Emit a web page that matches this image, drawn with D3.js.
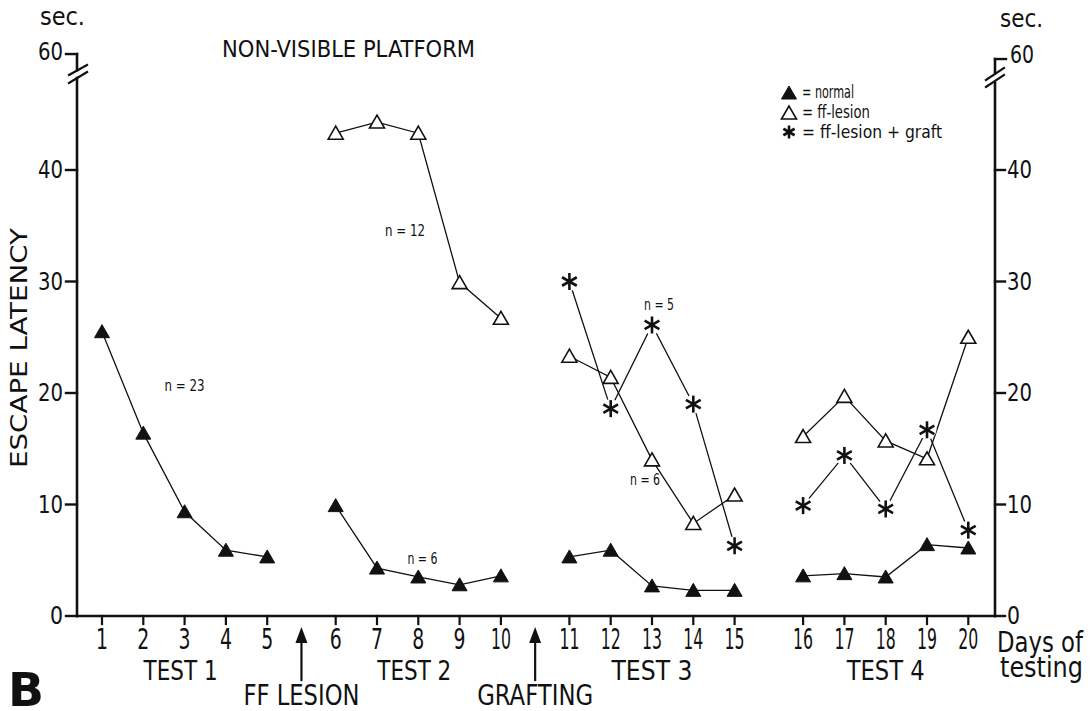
<!DOCTYPE html>
<html><head><meta charset="utf-8">
<script src="https://cdn.jsdelivr.net/npm/d3@7"></script>
<style>body{margin:0;background:#fff}svg text{font-family:"Liberation Sans Narrow","DejaVu Sans Condensed","Arial Narrow",sans-serif;fill:#111}</style>
</head><body>
<svg id="c" width="1090" height="711"></svg>
<script>
// ---------------- data ----------------
const days = d3.range(1, 21);
const testNames = ["TEST 1", "TEST 2", "TEST 3", "TEST 4"];
const testDays = [[1,2,3,4,5],[6,7,8,9,10],[11,12,13,14,15],[16,17,18,19,20]];
const normal   = [25.5,16.4,9.35,5.9,5.3, 9.9,4.3,3.5,2.8,3.6, 5.3,5.9,2.7,2.3,2.3, 3.6,3.8,3.5,6.4,6.1];
const ffLesion = [null,null,null,null,null, 43.3,44.3,43.3,29.9,26.7, 23.3,21.4,14.0,8.3,10.85, 16.1,19.7,15.7,14.1,25.0];
const ffGraft  = [null,null,null,null,null, null,null,null,null,null, 30.0,18.6,26.1,19.0,6.3, 9.9,14.4,9.6,16.7,7.7];
const yTicks = [0, 10, 20, 30, 40];
const yBreakLabel = "60";
const legendItems = [["filled","= normal"],["open","= ff-lesion"],["star","= ff-lesion + graft"]];
const nLabels = [["n = 23",3.0,20.7],["n = 12",7.68,34.6],["n = 6",8.1,5.2],["n = 5",13.17,27.9],["n = 6",12.83,12.2]];
const events = [["FF LESION",5.5],["GRAFTING",10.5]];

// ---------------- layout ----------------
const svg = d3.select("#c");
const x0 = 102, step = 41.3, gap = 68.5;
const dom = [1,5,6,10,11,15,16,20];
const rng = []; { let p = x0; dom.forEach((d,i)=>{ if(i>0){ p += (i%2===1) ? 4*step : gap; } rng.push(p); }); }
const x = d3.scaleLinear().domain(dom).range(rng);
const y = d3.scaleLinear().domain([0, 40]).range([616, 170]);
const axL = 77, axR = 995, axB = y(0), yTop = y(50.4);

function txt(px, py, s, o) {
  o = o || {};
  const t = svg.append("text").attr("x", px).attr("y", py).text(s)
    .attr("font-size", o.size || 20).attr("text-anchor", o.anchor || "start");
  if (o.len) t.attr("textLength", o.len).attr("lengthAdjust", "spacingAndGlyphs");
  if (o.weight) t.attr("font-weight", o.weight);
  if (o.rot) t.attr("transform", `rotate(${o.rot},${px},${py})`);
  if (o.mid) t.attr("dominant-baseline", "central");
  return t;
}
const line = (x1,y1,x2,y2,w) => svg.append("line").attr("x1",x1).attr("y1",y1).attr("x2",x2).attr("y2",y2)
  .attr("stroke","#111").attr("stroke-width",w||2.4).attr("stroke-linecap","square");

// ---------------- axes ----------------
// bottom
line(axL, axB, axR, axB, 2.6);
days.forEach(d => { line(x(d), axB, x(d), axB + 8, 2.2);
  txt(x(d), 649, String(d), {size: 29, anchor: "middle", len: String(d).length === 1 ? 12 : 20}); });
// left axis with break
line(axL, axB, axL, yTop + 24, 2.6);
line(axL, yTop + 16, axL, yTop, 2.6);
line(axL - 11, yTop, axL, yTop, 2.4);
line(axL - 8, yTop + 21, axL + 10, yTop + 11, 2.2);
line(axL - 8, yTop + 29, axL + 10, yTop + 18, 2.2);
yTicks.forEach(v => { line(axL - 11, y(v), axL, y(v), 2.4);
  txt(axL - 14, y(v), String(v), {size: 24, anchor: "end", mid: true, len: String(v).length === 1 ? 13 : 25}); });
txt(axL - 14, yTop - 2, yBreakLabel, {size: 24, anchor: "end", mid: true, len: 25});
txt(40, 25, "sec.", {size: 24, len: 45});
// right axis with break
const yTopR = yTop + 5;
line(axR, axB, axR, yTopR + 24, 2.6);
line(axR, yTopR + 14, axR, yTopR, 2.6);
line(axR, yTopR, axR + 11, yTopR, 2.4);
line(axR - 9, yTopR + 21, axR + 9, yTopR + 9, 2.2);
line(axR - 9, yTopR + 28, axR + 9, yTopR + 16, 2.2);
yTicks.forEach(v => { line(axR, y(v), axR + 10, y(v), 2.4);
  txt(axR + 12, y(v), String(v), {size: 24, mid: true, len: String(v).length === 1 ? 13 : 25}); });
txt(axR + 15, yTopR - 4, yBreakLabel, {size: 24, mid: true, len: 24});
txt(1000, 27, "sec.", {size: 24, len: 43});

// ---------------- texts ----------------
txt(222, 57, "NON-VISIBLE PLATFORM", {size: 23, len: 253});
txt(27, 348, "ESCAPE LATENCY", {size: 23, anchor: "middle", rot: -90, len: 240});
const testLen = [74, 74, 81, 78];
testDays.forEach((td, i) => txt((x(td[1]) + x(td[3])) / 2 + (i < 2 ? -4 : 0), 680, testNames[i], {size: 27, anchor: "middle", len: testLen[i]}));
events.forEach(([s, d]) => {
  const ax = x(d);
  line(ax, 680, ax, 640, 2.2);
  svg.append("path").attr("d", `M${ax},627 L${ax-6},643 L${ax+6},643 Z`).attr("fill", "#111");
  txt(ax, 705, s, {size: 29, anchor: "middle", len: 116});
});
txt(997, 652, "Days of", {size: 28, len: 86});
txt(1000, 677, "testing", {size: 28, len: 83});
txt(8, 706, "B", {size: 46, weight: "bold", len: 36});
nLabels.forEach(([s, d, v]) => txt(x(d), y(v), s, {size: 16, anchor: "middle", mid: true, len: s.length > 5 ? 40 : 30}));

// ---------------- markers ----------------
function tri(px, py, filled) {
  svg.append("path").attr("d", `M${px},${py-7} L${px-7.5},${py+6} L${px+7.5},${py+6} Z`)
    .attr("fill", filled ? "#111" : "#fff").attr("stroke", "#111").attr("stroke-width", filled ? 1 : 1.6).attr("stroke-linejoin", "miter");
}
function star(px, py, r, bg) {
  if (bg) svg.append("circle").attr("cx", px).attr("cy", py).attr("r", r + 1).attr("fill", "#fff");
  [90, 30, 150].forEach(a => { const rad = a * Math.PI / 180, dx = r * Math.cos(rad), dy = r * Math.sin(rad);
    svg.append("line").attr("x1", px - dx).attr("y1", py - dy).attr("x2", px + dx).attr("y2", py + dy)
      .attr("stroke", "#111").attr("stroke-width", 2.6); });
}

// ---------------- series ----------------
const series = [[normal, "filled"], [ffLesion, "open"], [ffGraft, "star"]];
const lg = d3.line().defined(d => d.v != null).x(d => x(d.d)).y(d => y(d.v));
series.forEach(([vals, kind]) => {
  testDays.forEach(td => {
    const pts = td.map(d => ({d, v: vals[d - 1]}));
    svg.append("path").attr("d", lg(pts)).attr("fill", "none").attr("stroke", "#111").attr("stroke-width", 1.3);
  });
});
series.forEach(([vals, kind]) => {
  days.forEach(d => { const v = vals[d - 1]; if (v == null) return;
    if (kind === "star") star(x(d), y(v), 8.5, true); else tri(x(d), y(v), kind === "filled"); });
});

// ---------------- legend ----------------
legendItems.forEach(([kind, s], i) => {
  const ly = 92 + i * 20;
  if (kind === "star") star(789, ly, 6.5, false); else tri(789, ly + 1, kind === "filled");
  txt(802, ly, s, {size: 17, mid: true, len: [52, 68, 140][i]});
});
</script>
</body></html>
